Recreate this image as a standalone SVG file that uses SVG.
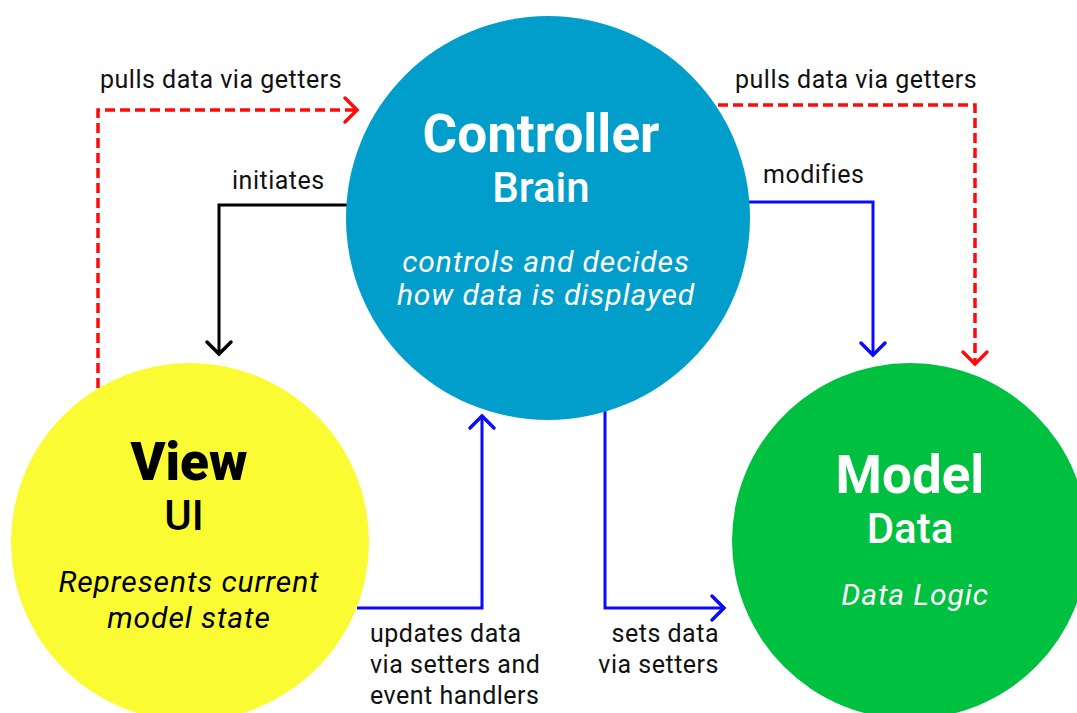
<svg xmlns="http://www.w3.org/2000/svg" width="1077" height="713" viewBox="0 0 1077 713">
<style>
.lbl{font-family:Roboto,"Liberation Sans",sans-serif;font-size:25px;letter-spacing:0.5px;fill:#111}
.title{font-family:Roboto,"Liberation Sans",sans-serif;font-size:53px;font-weight:700;text-anchor:middle}
.sub{font-family:Roboto,"Liberation Sans",sans-serif;font-size:42px;font-weight:500;text-anchor:middle}
.desc{font-family:Roboto,"Liberation Sans",sans-serif;font-size:30px;letter-spacing:0.9px;font-style:italic;text-anchor:middle}
.conn{fill:none;stroke-width:3}
.blue{stroke:#0a0aff}
.red{stroke:#ff0a0a;stroke-width:3.5;stroke-dasharray:10 5}
.black{stroke:#000}
</style>
<defs>
<marker id="ab" markerUnits="userSpaceOnUse" markerWidth="30" markerHeight="30" viewBox="-15 -15 30 30" refX="0" refY="0" orient="auto">
<path d="M-12,-12 L0,0 L-12,12" fill="none" stroke="#0a0aff" stroke-width="3.5" stroke-linecap="round"/>
</marker>
<marker id="ar" markerUnits="userSpaceOnUse" markerWidth="30" markerHeight="30" viewBox="-15 -15 30 30" refX="0" refY="0" orient="auto">
<path d="M-12,-12 L0,0 L-12,12" fill="none" stroke="#ff0a0a" stroke-width="3.5" stroke-linecap="round"/>
</marker>
<marker id="ak" markerUnits="userSpaceOnUse" markerWidth="30" markerHeight="30" viewBox="-15 -15 30 30" refX="0" refY="0" orient="auto">
<path d="M-12,-12 L0,0 L-12,12" fill="none" stroke="#000" stroke-width="3.5" stroke-linecap="round"/>
</marker>
</defs>
<rect width="1077" height="713" fill="#fff"/>
<g id="connectors">
<path class="conn red" d="M98,388 V110 H357" marker-end="url(#ar)"/>
<path class="conn red" d="M718,105 H975 V364" marker-end="url(#ar)"/>
<path class="conn black" d="M350,205 H219 V354" marker-end="url(#ak)"/>
<path class="conn blue" d="M745,202 H873 V355" marker-end="url(#ab)"/>
<path class="conn blue" d="M357,608 H482 V416" marker-end="url(#ab)"/>
<path class="conn blue" d="M605,405 V608 H724" marker-end="url(#ab)"/>
<text class="lbl" x="100" y="88">pulls data via getters</text>
<text class="lbl" x="735" y="88">pulls data via getters</text>
<text class="lbl" x="232" y="189">initiates</text>
<text class="lbl" x="763" y="183">modifies</text>
<text class="lbl" x="370" y="642">updates data</text>
<text class="lbl" x="370" y="673">via setters and</text>
<text class="lbl" x="370" y="704">event handlers</text>
<text class="lbl" x="719" y="642" text-anchor="end">sets data</text>
<text class="lbl" x="719" y="673" text-anchor="end">via setters</text>
</g>
<g id="controller">
<circle cx="548" cy="218" r="202" fill="#029ecb"/>
<text class="title" x="541" y="152" fill="#fff">Controller</text>
<text class="sub" x="541" y="202" fill="#fff">Brain</text>
<text class="desc" x="546" y="272" fill="#fff">controls and decides</text>
<text class="desc" x="546" y="305" fill="#fff">how data is displayed</text>
</g>
<g id="view">
<circle cx="190" cy="542" r="179" fill="#fbfb33"/>
<text class="title" x="189" y="480" fill="#000" style="font-weight:900">View</text>
<text class="sub" x="184" y="530" fill="#000">UI</text>
<text class="desc" x="189" y="592" fill="#000">Represents current</text>
<text class="desc" x="189" y="628" fill="#000">model state</text>
</g>
<g id="model">
<circle cx="910" cy="541" r="178" fill="#00c040"/>
<text class="title" x="910" y="493" fill="#fff">Model</text>
<text class="sub" x="910" y="543" fill="#fff">Data</text>
<text class="desc" x="915" y="605" fill="#fff">Data Logic</text>
</g>
</svg>
